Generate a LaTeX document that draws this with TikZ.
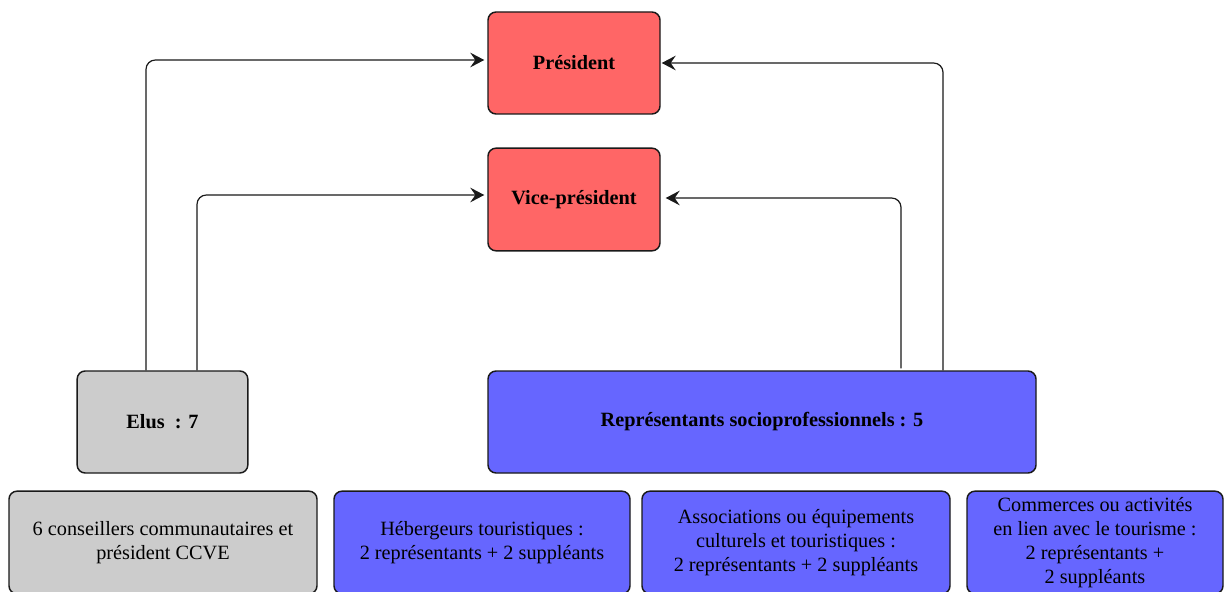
\documentclass[tikz,border=0pt]{standalone}
\usepackage{fontspec}
\setmainfont{Liberation Serif}
\usetikzlibrary{arrows.meta,calc}
\definecolor{redbox}{HTML}{FF6666}
\definecolor{graybox}{HTML}{CCCCCC}
\definecolor{bluebox}{HTML}{6666FF}
\tikzset{
  box/.style={draw=black!90, line width=1.1pt, rounded corners=6pt, align=center,
    inner sep=2pt, font=\fontsize{15.2pt}{18pt}\selectfont},
  boldbox/.style={box, font=\fontsize{15.2pt}{18pt}\selectfont\bfseries},
  conn/.style={draw=black!90, line width=0.9pt, rounded corners=7pt,
    -{Stealth[length=10.5pt,width=11pt,inset=3.8pt]}},
}
\begin{document}
\begin{tikzpicture}[x=0.75pt,y=-0.75pt]
\useasboundingbox (0,0) rectangle (1225,592);
\node[boldbox, fill=redbox, minimum width=129pt, minimum height=76.5pt] (pres) at (574,63) {Président};
\node[boldbox, fill=redbox, minimum width=129pt, minimum height=77pt] (vice) at (574,199.5) {Vice-président};
\node[boldbox, fill=graybox, minimum width=128pt, minimum height=76.5pt] (elus) at (162.5,422) {Elus~~: 7};
\node[boldbox, fill=bluebox, minimum width=411pt, minimum height=76.5pt] (rep) at (762,422) {Représentants socioprofessionnels : 5};
\node[box, fill=graybox, minimum width=231pt, minimum height=77pt] (cons) at (163,542.5) {6 conseillers communautaires et\\président CCVE};
\node[box, fill=bluebox, minimum width=222pt, minimum height=77pt] (heb) at (482,542.5) {Hébergeurs touristiques :\\2 représentants + 2 suppléants};
\node[box, fill=bluebox, minimum width=231pt, minimum height=77pt] (asso) at (796,542.5) {Associations ou équipements\\culturels et touristiques :\\2 représentants + 2 suppléants};
\node[box, fill=bluebox, minimum width=192pt, minimum height=77pt] (comm) at (1095,542.5) {Commerces ou activités\\en lien avec le tourisme :\\2 représentants +\\2 suppléants};
\draw[conn] ($(elus.north)+(-16.5,0)$) |- ($(pres.west)+(-3,-3)$);
\draw[conn] ($(elus.north)+(34.5,0)$) |- ($(vice.west)+(-3,-4.5)$);
\draw[conn] ($(rep.north)+(181,0)$) |- ($(pres.east)+(1,0)$);
\draw[conn] ($(rep.north)+(139,-2)$) |- ($(vice.east)+(5,-1.5)$);
\end{tikzpicture}
\end{document}
